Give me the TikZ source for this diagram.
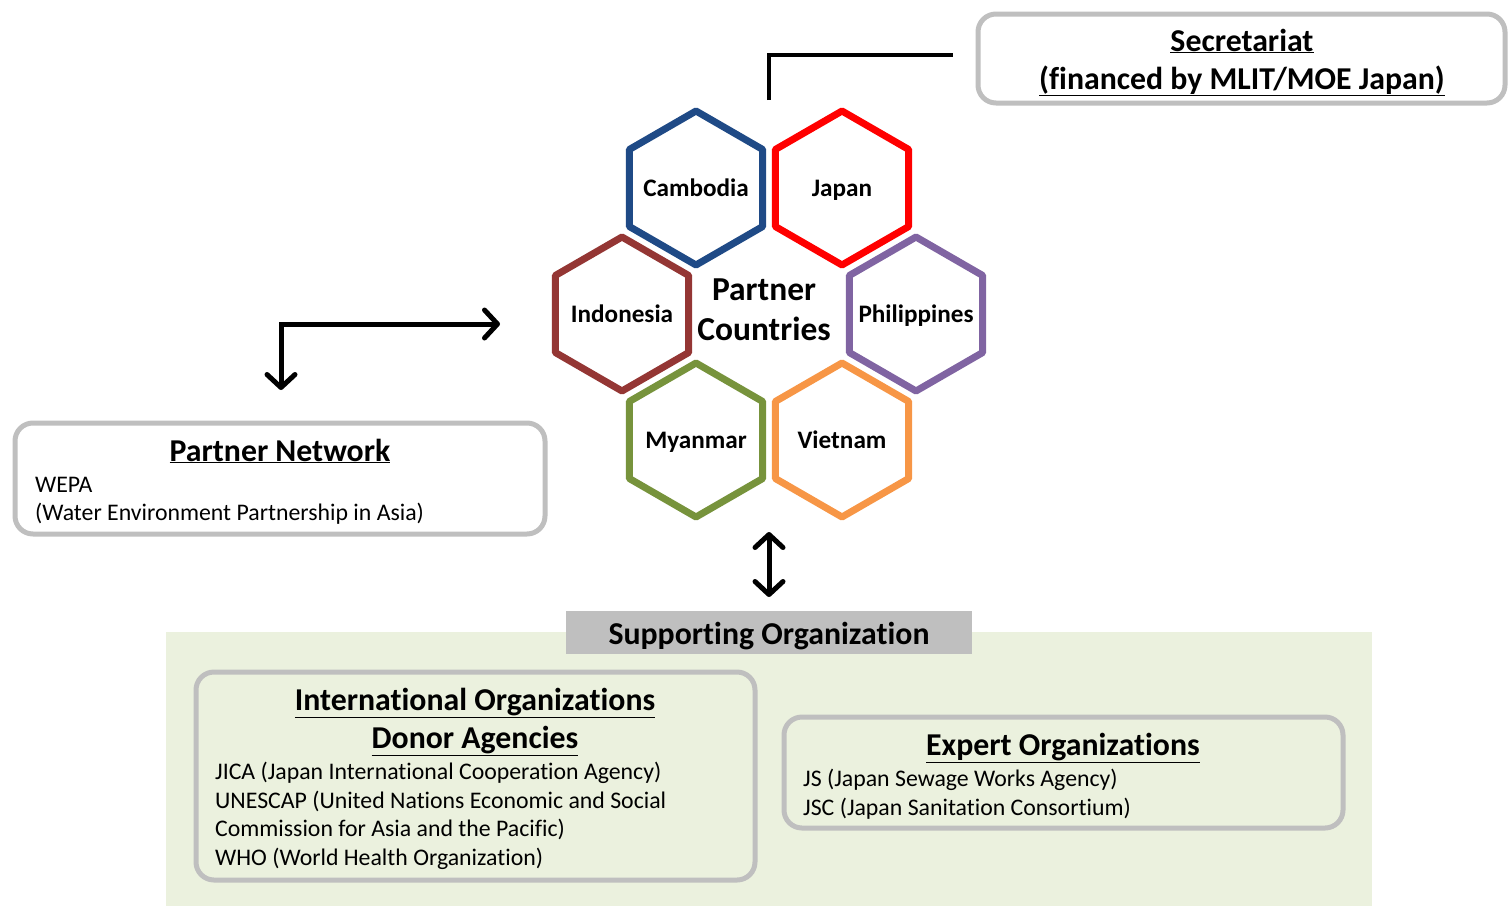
\documentclass[tikz,border=0pt]{standalone}
\usepackage{fontspec}
\setmainfont{Carlito}[Ligatures={NoCommon,NoContextual}]
\usetikzlibrary{arrows.meta,shapes.geometric}
\definecolor{boxgray}{HTML}{BFBFBF}
\definecolor{areagreen}{HTML}{EBF1DE}
\definecolor{cambodia}{HTML}{1F4A86}
\definecolor{japan}{HTML}{FF0000}
\definecolor{indonesia}{HTML}{943634}
\definecolor{philippines}{HTML}{8064A2}
\definecolor{myanmar}{HTML}{77933C}
\definecolor{vietnam}{HTML}{F79646}
\tikzset{
  gbox/.style={draw=boxgray, line width=5pt, rounded corners=18pt, rectangle, inner sep=0pt},
  hexa/.style={regular polygon, regular polygon sides=6, regular polygon rotate=30,
    minimum size=154pt, inner sep=0pt, line width=7pt, line join=round,
    font=\fontsize{25.2}{30}\selectfont\bfseries},
  head/.style={anchor=base, inner sep=0pt, font=\fontsize{31.8}{38}\selectfont\bfseries},
  body/.style={anchor=base west, inner sep=0pt, font=\fontsize{23.8}{29}\selectfont},
  conn/.style={line width=4pt, draw=black},
  arr/.style={line width=5pt, draw=black, line cap=round,
    arrows={Straight Barb[round,length=13pt,width=28pt]-Straight Barb[round,length=13pt,width=28pt]}}
}
\newcommand{\hexlabel}[1]{\makebox[0pt]{\raisebox{-0.32em}[0pt][0pt]{#1}}}
\begin{document}
\begin{tikzpicture}[x=1pt,y=-1pt]
\useasboundingbox (0,0) rectangle (1508,906);

% supporting area
\fill[areagreen] (166,632) rectangle (1372,906);
\node[fill=boxgray, minimum width=406pt, minimum height=43pt, inner sep=0pt] (suphead) at (769,632.5) {};
\node[head] (suptext) at (769,644) {Supporting Organization};

% boxes
\node[gbox, minimum width=527pt, minimum height=89pt] (sec) at (1241.5,58.5) {};
\node[head] (sect1) at (1242,51) {\underline{Secretariat}};
\node[head] (sect2) at (1242,89) {\underline{(financed by MLIT/MOE Japan)}};

\node[gbox, minimum width=530pt, minimum height=111pt] (pn) at (280,478.5) {};
\node[head] (pnt) at (280,461) {\underline{Partner Network}};
\node[body] (pn1) at (35,492) {WEPA};
\node[body] (pn2) at (35,520) {(Water Environment Partnership in Asia)};

\node[gbox, fill=areagreen, minimum width=559pt, minimum height=208pt] (intl) at (475.5,776) {};
\node[head] (intlt1) at (475,710) {\underline{International Organizations}};
\node[head] (intlt2) at (475,748) {\underline{Donor Agencies}};
\node[body] (intl1) at (215,779) {JICA (Japan International Cooperation Agency)};
\node[body] (intl2) at (215,808) {UNESCAP (United Nations Economic and Social};
\node[body] (intl3) at (215,836) {Commission for Asia and the Pacific)};
\node[body] (intl4) at (215,865) {WHO (World Health Organization)};

\node[gbox, fill=areagreen, minimum width=559pt, minimum height=111pt] (exp) at (1063.5,772.5) {};
\node[head] (expt) at (1063,755) {\underline{Expert Organizations}};
\node[body] (exp1) at (803,786) {JS (Japan Sewage Works Agency)};
\node[body] (exp2) at (803,815) {JSC (Japan Sanitation Consortium)};

% hexagons
\node[hexa, draw=cambodia] (cam) at (696,188) {\hexlabel{Cambodia}};
\node[hexa, draw=japan] (jap) at (842,188) {\hexlabel{Japan}};
\node[hexa, draw=indonesia] (ind) at (622,314) {\hexlabel{Indonesia}};
\node[hexa, draw=philippines] (phi) at (916,314) {\hexlabel{Philippines}};
\node[hexa, draw=myanmar] (mya) at (696,440) {\hexlabel{Myanmar}};
\node[hexa, draw=vietnam] (vie) at (842,440) {\hexlabel{Vietnam}};
\node[head, font=\fontsize{33.5}{40}\selectfont\bfseries] (pc1) at (764,300) {Partner};
\node[head, font=\fontsize{33.5}{40}\selectfont\bfseries] (pc2) at (764,340) {Countries};

% connectors
\coordinate (secA) at (769,100);
\coordinate (secB) at (953,55);
\draw[conn] (secA) |- (secB);

\coordinate (pnDown) at (281,390);
\coordinate (pnRight) at (500,324);
\draw[arr] (pnDown) |- (pnRight);

\coordinate (vTop) at (769,532);
\coordinate (vBot) at (769,597);
\draw[arr] (vTop) -- (vBot);
\end{tikzpicture}
\end{document}
